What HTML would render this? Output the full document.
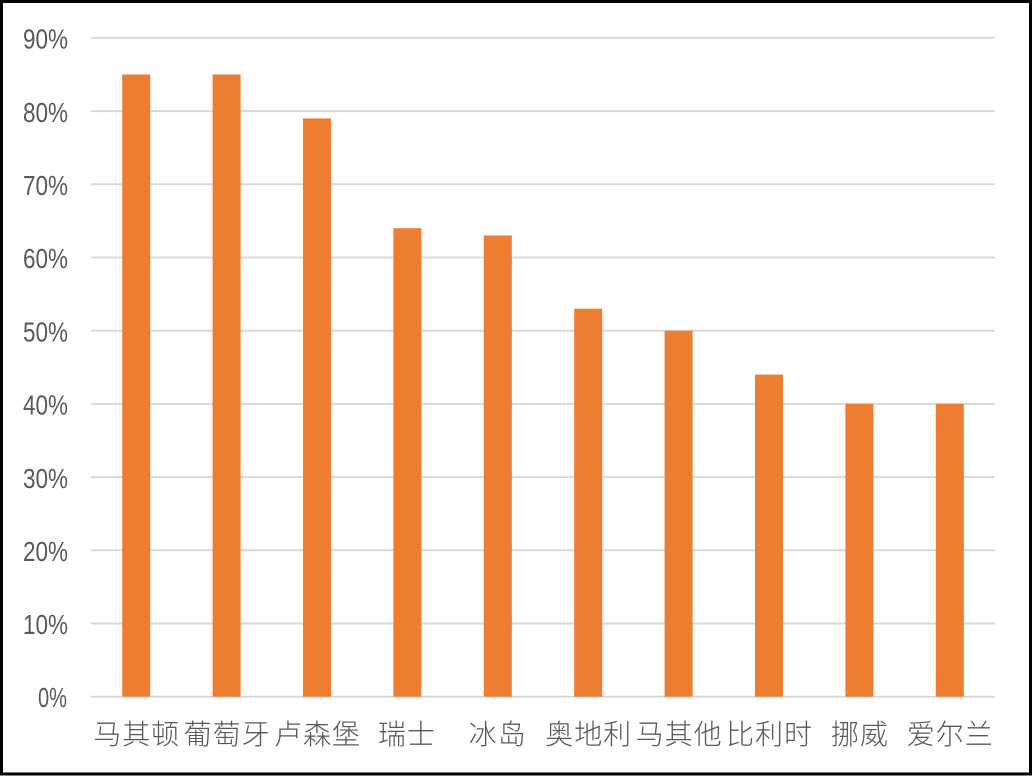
<!DOCTYPE html>
<html>
<head>
<meta charset="utf-8">
<style>
html,body{margin:0;padding:0;background:#fff;}
svg{display:block;}
.yl{font-family:"Liberation Sans",sans-serif;font-size:28px;fill:#595959;}
.xl{font-family:"Liberation Sans","Noto Sans CJK SC",sans-serif;font-size:28px;font-weight:300;fill:#595959;}
</style>
</head>
<body>
<svg width="1033" height="776" viewBox="0 0 1033 776" xmlns="http://www.w3.org/2000/svg">
<rect x="0" y="0" width="1033" height="776" fill="#fff"/>
<!-- gridlines -->
<g stroke="#d9d9d9" stroke-width="2">
<line x1="91" x2="995" y1="696.7" y2="696.7"/>
<line x1="91" x2="995" y1="623.5" y2="623.5"/>
<line x1="91" x2="995" y1="550.3" y2="550.3"/>
<line x1="91" x2="995" y1="477.1" y2="477.1"/>
<line x1="91" x2="995" y1="403.9" y2="403.9"/>
<line x1="91" x2="995" y1="330.7" y2="330.7"/>
<line x1="91" x2="995" y1="257.5" y2="257.5"/>
<line x1="91" x2="995" y1="184.3" y2="184.3"/>
<line x1="91" x2="995" y1="111.1" y2="111.1"/>
<line x1="91" x2="995" y1="37.9" y2="37.9"/>
</g>
<!-- y labels -->
<g class="yl" text-anchor="end">
<text x="67" y="707" textLength="29" lengthAdjust="spacingAndGlyphs">0%</text>
<text x="68" y="634" textLength="45" lengthAdjust="spacingAndGlyphs">10%</text>
<text x="68" y="561" textLength="45" lengthAdjust="spacingAndGlyphs">20%</text>
<text x="68" y="488" textLength="45" lengthAdjust="spacingAndGlyphs">30%</text>
<text x="68" y="414.5" textLength="45" lengthAdjust="spacingAndGlyphs">40%</text>
<text x="68" y="341.5" textLength="45" lengthAdjust="spacingAndGlyphs">50%</text>
<text x="68" y="268" textLength="45" lengthAdjust="spacingAndGlyphs">60%</text>
<text x="68" y="195" textLength="45" lengthAdjust="spacingAndGlyphs">70%</text>
<text x="68" y="122" textLength="45" lengthAdjust="spacingAndGlyphs">80%</text>
<text x="68" y="48.5" textLength="45" lengthAdjust="spacingAndGlyphs">90%</text>
</g>
<!-- bars -->
<g fill="#ED7D31">
<rect x="122.2" y="74.5" width="28" height="622.2"/>
<rect x="212.6" y="74.5" width="28" height="622.2"/>
<rect x="303.0" y="118.4" width="28" height="578.3"/>
<rect x="393.4" y="228.2" width="28" height="468.5"/>
<rect x="483.8" y="235.5" width="28" height="461.2"/>
<rect x="574.2" y="308.7" width="28" height="388.0"/>
<rect x="664.6" y="330.7" width="28" height="366.0"/>
<rect x="755.0" y="374.6" width="28" height="322.1"/>
<rect x="845.4" y="403.9" width="28" height="292.8"/>
<rect x="935.8" y="403.9" width="28" height="292.8"/>
</g>
<!-- x labels -->
<g class="xl" text-anchor="middle">
<text x="136.2" y="744" textLength="86" lengthAdjust="spacing">马其顿</text>
<text x="226.6" y="744" textLength="86" lengthAdjust="spacing">葡萄牙</text>
<text x="317.0" y="744" textLength="86" lengthAdjust="spacing">卢森堡</text>
<text x="406.4" y="744" textLength="57" lengthAdjust="spacing">瑞士</text>
<text x="497.3" y="744" textLength="57" lengthAdjust="spacing">冰岛</text>
<text x="588.2" y="744" textLength="86" lengthAdjust="spacing">奥地利</text>
<text x="678.6" y="744" textLength="86" lengthAdjust="spacing">马其他</text>
<text x="769.0" y="744" textLength="86" lengthAdjust="spacing">比利时</text>
<text x="859.4" y="744" textLength="57" lengthAdjust="spacing">挪威</text>
<text x="949.8" y="744" textLength="86" lengthAdjust="spacing">爱尔兰</text>
</g>
<!-- border -->
<rect x="1.5" y="1.5" width="1029" height="772.5" fill="none" stroke="#000" stroke-width="3"/>
</svg>
</body>
</html>
